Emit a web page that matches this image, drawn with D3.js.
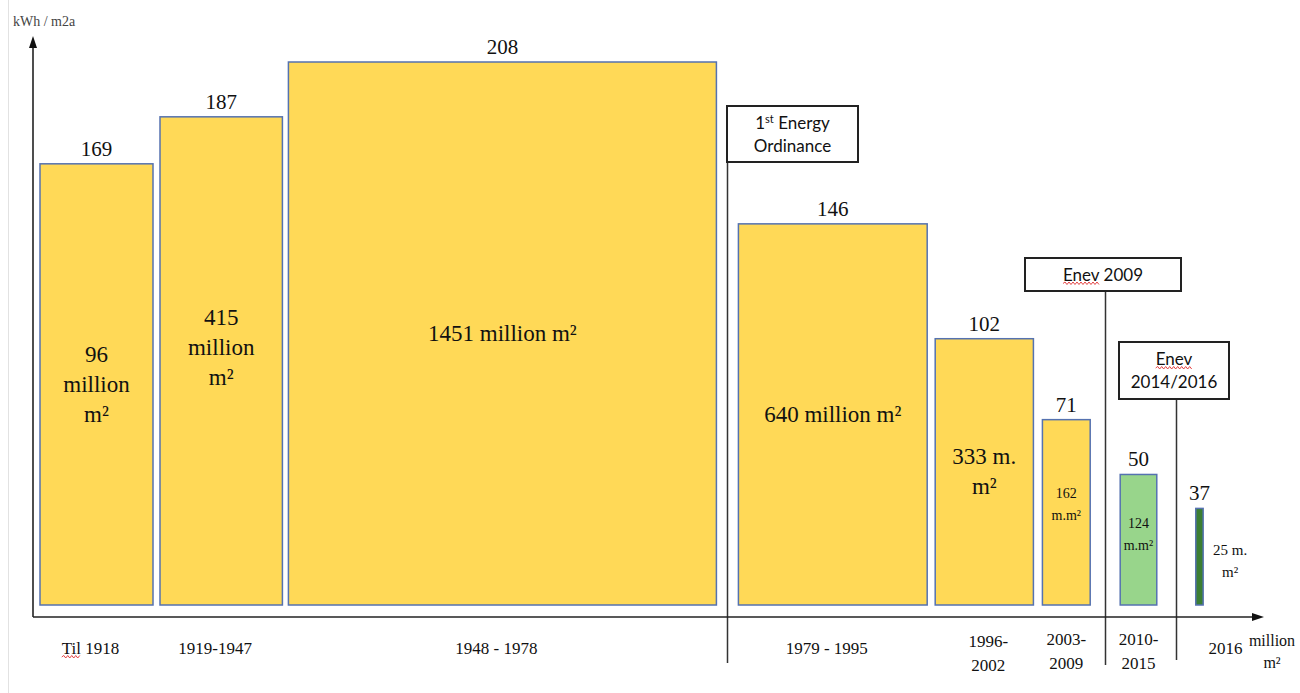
<!DOCTYPE html>
<html><head><meta charset="utf-8">
<script src="https://cdn.jsdelivr.net/npm/d3@7/dist/d3.min.js"></script>
<style>
html,body{margin:0;padding:0;background:#fff;}
svg{display:block;}
</style></head>
<body>
<svg id="chart" width="1300" height="693"></svg>
<script>
// ---- data ----
const categories = ["Til 1918", "1919-1947", "1948 - 1978", "1979 - 1995", "1996-|2002", "2003-|2009", "2010-|2015", "2016"];
const energyKWh = [169, 187, 208, 146, 102, 71, 50, 37];
const areaMillionM2 = [96, 415, 1451, 640, 333, 162, 124, 25];
const areaLabels = [
  ["96", "million", "m²"],
  ["415", "million", "m²"],
  ["1451 million m²"],
  ["640 million m²"],
  ["333 m.", "m²"],
  ["162", "m.m²"],
  ["124", "m.m²"],
  ["25 m.", "m²"]
];
const periodGroup = ["pre", "pre", "pre", "pre", "pre", "pre", "enev2014", "enev2016"];
const regulations = [
  { lines: [["1", "st", " Energy"], ["Ordinance"]], afterIndex: 2 },
  { lines: [["Enev", "", " 2009"]], afterIndex: 5 },
  { lines: [["Enev", "", ""], ["2014/2016"]], afterIndex: 6 }
];
const yAxisLabel = "kWh / m2a";
const xAxisUnit = ["million", "m²"];

// ---- layout ----
const svg = d3.select("#chart");
const baseY = 605, axisY = 617, axisX = 33;
const y = d3.scaleLinear().domain([0, 208]).range([baseY, 62]);
const w = d3.scaleLinear().domain([0, 1451]).range([0, 428]);
const minWidth = 113;
const gaps = [7, 6, 22, 8, 9, 30, 39];
const fills = { pre: "#FFD957", enev2014: "#98D58B", enev2016: "#3B7E33" };

let cx = 40;
const bars = energyKWh.map((v, i) => {
  const width = Math.max(w(areaMillionM2[i]), i === 0 ? minWidth : 0);
  const b = { i, v, x: cx, width, top: y(v), cat: categories[i], lab: areaLabels[i], grp: periodGroup[i] };
  cx += width + (gaps[i] || 0);
  return b;
});

function squiggle(x0, len, ty) {
  let d = `M${x0},${ty + 3}`;
  for (let xx = x0, up = true; xx < x0 + len; xx += 2, up = !up) d += `L${xx + 2},${ty + (up ? 1.5 : 4)}`;
  svg.append("path").attr("d", d).attr("fill", "none").attr("stroke", "#e03030").attr("stroke-width", 0.9);
}

// page edge line
svg.append("line").attr("x1", 8.5).attr("x2", 8.5).attr("y1", 0).attr("y2", 693)
  .attr("stroke", "#e2e2e2").attr("stroke-width", 1);

// regulation lines + boxes
const boxDefs = [
  { x0: 727, y0: 106, x1: 858, y1: 162, lineBottom: 663 },
  { x0: 1025, y0: 258, x1: 1181, y1: 291, lineBottom: 665 },
  { x0: 1119, y0: 342, x1: 1229, y1: 399, lineBottom: 660 }
];
regulations.forEach((r, k) => {
  const b = bars[r.afterIndex];
  const lx = Math.round(b.x + b.width + gaps[r.afterIndex] / 2) + 0.5;
  const bd = boxDefs[k];
  svg.append("line").attr("x1", lx).attr("x2", lx).attr("y1", bd.y1).attr("y2", bd.lineBottom)
    .attr("stroke", "#333").attr("stroke-width", 1.5);
  const bx0 = k === 0 ? lx - 0.5 : bd.x0;
  svg.append("rect").attr("x", bx0).attr("y", bd.y0).attr("width", bd.x1 - bx0).attr("height", bd.y1 - bd.y0)
    .attr("fill", "#fff").attr("stroke", "#222").attr("stroke-width", 2);
  const mid = (bx0 + bd.x1) / 2;
  const n = r.lines.length;
  const lh = 23;
  const cy = (bd.y0 + bd.y1) / 2;
  r.lines.forEach((ln, j) => {
    const ty = cy + (j - (n - 1) / 2) * lh + 6;
    const t = svg.append("text").attr("x", mid).attr("y", ty).attr("text-anchor", "middle")
      .attr("font-family", "Lato, 'Open Sans', sans-serif").attr("font-size", 17).attr("fill", "#111");
    if (ln.length === 1) { t.text(ln[0]); }
    else {
      t.append("tspan").text(ln[0]);
      if (ln[1]) t.append("tspan").attr("dy", -6).attr("font-size", 11).text(ln[1]);
      if (ln[2]) t.append("tspan").attr("dy", ln[1] ? 6 : 0).text(ln[2]);
    }
    if (ln[0] === "Enev") {
      const bb = t.node().getBBox();
      squiggle(bb.x, 36, ty);
    }
  });
});

// bars
svg.selectAll("rect.bar").data(bars).enter().append("rect").attr("class", "bar")
  .attr("x", d => d.x).attr("y", d => d.top).attr("width", d => d.width).attr("height", d => baseY - d.top)
  .attr("fill", d => fills[d.grp]).attr("stroke", "#5572B0").attr("stroke-width", 1.5);

// value labels
svg.selectAll("text.val").data(bars).enter().append("text").attr("class", "val")
  .attr("x", d => d.x + d.width / 2).attr("y", d => d.top - 8).attr("text-anchor", "middle")
  .attr("font-family", "'Liberation Serif', serif").attr("font-size", 21).attr("fill", "#111")
  .text(d => d.v);

// area labels inside bars
bars.forEach(d => {
  const small = d.i >= 5;
  const fs = d.i === 7 ? 15 : small ? 14 : 23;
  const lh = small ? 22 : 30;
  const n = d.lab.length;
  const cxm = d.i === 7 ? d.x + d.width + 27 : d.x + d.width / 2;
  const cym = (d.top + baseY) / 2 + (d.i === 1 ? -14 : 0) + (d.i === 5 ? -8 : 0) + (d.i === 6 ? -5 : 0) + (d.i === 7 ? 4 : 0);
  d.lab.forEach((s, j) => {
    svg.append("text").attr("x", cxm).attr("y", cym + (j - (n - 1) / 2) * lh + fs * 0.33)
      .attr("text-anchor", "middle").attr("font-family", "'Liberation Serif', serif")
      .attr("font-size", fs).attr("fill", "#111").text(s);
  });
});

// axes
const ax = svg.append("g").attr("stroke", "#222").attr("stroke-width", 1.6).attr("fill", "none");
ax.append("line").attr("x1", axisX).attr("x2", axisX).attr("y1", axisY).attr("y2", 46);
ax.append("line").attr("x1", axisX).attr("x2", 1253).attr("y1", axisY).attr("y2", axisY);
svg.append("path").attr("d", `M${axisX},36 L${axisX - 4},48 L${axisX + 4},48 Z`).attr("fill", "#111");
svg.append("path").attr("d", `M1264,${axisY} L1252,${axisY - 4} L1252,${axisY + 4} Z`).attr("fill", "#111");

svg.append("text").attr("x", 13).attr("y", 26).attr("font-family", "'Liberation Serif', serif")
  .attr("font-size", 14).attr("fill", "#444").text(yAxisLabel);

// category labels
bars.forEach(d => {
  const parts = d.cat.split("|");
  const cxm = d.x + d.width / 2 + (d.i === 7 ? 26 : d.i <= 3 ? -6 : d.i === 4 ? 4 : 0);
  parts.forEach((s, j) => {
    const ty = parts.length === 1 ? 654 : (d.i === 4 ? 647 : 645) + j * 24;
    const t = svg.append("text").attr("x", cxm).attr("y", ty).attr("text-anchor", "middle")
      .attr("font-family", "'Liberation Serif', serif").attr("font-size", 17).attr("fill", "#111").text(s);
    if (s.startsWith("Til")) {
      const bb = t.node().getBBox();
      squiggle(bb.x, 18, ty);
    }
  });
});

// x unit
xAxisUnit.forEach((s, j) => {
  svg.append("text").attr("x", 1272).attr("y", 646 + j * 22).attr("text-anchor", "middle")
    .attr("font-family", "'Liberation Serif', serif").attr("font-size", 16).attr("fill", "#111").text(s);
});
</script>
</body></html>
